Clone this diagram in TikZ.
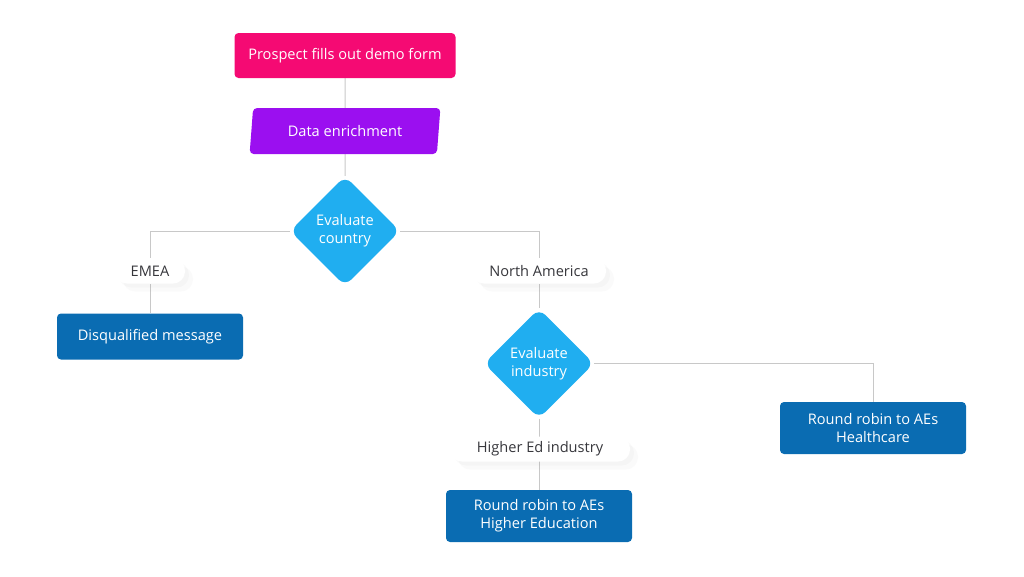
\documentclass[tikz,border=0pt]{standalone}
\usepackage{fontspec}
\setmainfont{Open Sans}
\usetikzlibrary{shapes.geometric,shadows,positioning}
\definecolor{cpink}{RGB}{245,10,115}
\definecolor{cpurple}{RGB}{155,15,240}
\definecolor{clblue}{RGB}{32,174,240}
\definecolor{cdblue}{RGB}{10,108,178}
\definecolor{cline}{RGB}{200,200,200}
\definecolor{ctext}{RGB}{55,55,60}
\pgfdeclarelayer{bg}
\pgfsetlayers{bg,main}
\tikzset{
  base/.style={font=\fontsize{14.6}{18}\selectfont, text=white, align=center, inner sep=0pt, rounded corners=4pt},
  startbox/.style={base, fill=cpink, minimum width=221pt, minimum height=45pt},
  databox/.style={base, trapezium, trapezium left angle=79, trapezium right angle=101, trapezium stretches=true, fill=cpurple, minimum width=191pt, minimum height=46pt},
  decision/.style={base, diamond, fill=clblue, minimum width=110pt, minimum height=110pt, rounded corners=9pt},
  action/.style={base, fill=cdblue, minimum width=186pt, minimum height=46pt},
  action2/.style={action, minimum height=52pt},
  tag/.style={font=\fontsize{14.6}{18}\selectfont, text=ctext, fill=white, rounded corners=12pt, minimum height=25pt, inner sep=0pt,
    drop shadow={opacity=0.04, shadow xshift=4pt, shadow yshift=-4pt},
    drop shadow={opacity=0.04, shadow xshift=8pt, shadow yshift=-8pt}},
  conn/.style={draw=cline, line width=1pt}
}
\begin{document}
\begin{tikzpicture}[x=1pt,y=-1pt]
\useasboundingbox (0,0) rectangle (1024,576);
\node[startbox] (start) at (345,55.5) {Prospect fills out demo form};
\node[databox] (data) at (345,131) {Data enrichment};
\node[decision] (country) at (345,231) {Evaluate\\country};
\node[tag, minimum width=70pt] (emea) at (150,271) {EMEA};
\node[action] (disq) at (150,336.5) {Disqualified message};
\node[tag, minimum width=134pt] (na) at (539,271) {North America};
\node[decision] (industry) at (539,363.5) {Evaluate\\industry};
\node[tag, minimum width=180pt] (hied) at (540,449) {Higher Ed industry};
\node[action2] (hiedbox) at (539,516) {Round robin to AEs\\Higher Education};
\node[action2] (health) at (873,428) {Round robin to AEs\\Healthcare};
\begin{pgfonlayer}{bg}
\draw[conn] (start.south) -- (data.north);
\draw[conn] (data.south) -- (country.north);
\draw[conn] (country.west) -| (emea.north);
\draw[conn] (emea.south) -- (disq.north);
\draw[conn] (country.east) -| (na.north);
\draw[conn] (na.south) -- (industry.north);
\draw[conn] (industry.east) -| (health.north);
\draw[conn] (industry.south) -- (hiedbox.north);
\end{pgfonlayer}
\end{tikzpicture}
\end{document}
